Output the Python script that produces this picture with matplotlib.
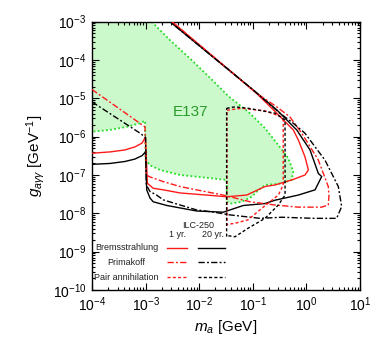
import numpy as np
import matplotlib
matplotlib.use("Agg")
from matplotlib import pyplot as plt
from matplotlib.ticker import LogLocator, NullFormatter

plt.rcParams['font.family'] = ['Liberation Sans', 'DejaVu Sans']
plt.rcParams['mathtext.fontset'] = 'custom'
plt.rcParams['mathtext.rm'] = 'Liberation Sans'
plt.rcParams['mathtext.it'] = 'Liberation Sans:italic'
plt.rcParams['mathtext.bf'] = 'Liberation Sans:bold'

# E137 excluded region (boundary, clockwise from top edge)
e137_x = [1.3e-3, 2.85e-3, 6.7e-3, 1.6e-2, 3.6e-2, 8.2e-2, 0.169, 0.30, 0.46, 0.57, 0.53,
          0.346, 0.169, 0.127, 9.5e-2, 6.2e-2, 4.0e-2, 3.26e-2, 3.26e-2, 1.59e-2, 4.4e-3,
          1.86e-3, 1.21e-3, 1.0e-3, 9.75e-4, 7.9e-4, 4.4e-4, 2.17e-4, 1e-4]
e137_y = [1e-3, 3.3e-4, 1.1e-4, 3.4e-5, 1.1e-5, 4.5e-6, 1.66e-6, 6.0e-7, 2.75e-7, 1.23e-7, 7.4e-8,
          6.0e-8, 5.5e-8, 4.0e-8, 2.7e-8, 2.0e-8, 1.8e-8, 2.0e-8, 7.4e-8, 8.3e-8, 1.0e-7,
          1.35e-7, 1.8e-7, 2.45e-7, 2.6e-6, 2.24e-6, 1.8e-6, 1.5e-6, 1.35e-6]

# Bremsstrahlung
brem1_x = [1e-4, 2.17e-4, 4.1e-4, 6.3e-4, 8.6e-4, 9.95e-4, 1.08e-3, 1.39e-3, 2.15e-3, 4.4e-3,
           1.83e-2, 3.26e-2, 7.7e-2, 0.169, 0.26, 0.53, 0.94, 1.09, 0.94, 0.71, 0.57, 0.37,
           0.28, 0.118, 3.1e-3]
brem1_y = [3.7e-7, 4.0e-7, 4.5e-7, 5.4e-7, 6.8e-7, 9.8e-7, 6.1e-8, 4.5e-8, 4.1e-8, 3.4e-8,
           2.9e-8, 2.7e-8, 3.0e-8, 5.0e-8, 5.5e-8, 7.4e-8, 1.0e-7, 1.35e-7, 3.0e-7, 8.1e-7, 1.5e-6, 2.75e-6,
           4.1e-6, 1.35e-5, 1e-3]
brem20_x = [1e-4, 2.17e-4, 4.1e-4, 6.3e-4, 8.6e-4, 9.95e-4, 1.05e-3, 1.21e-3, 1.39e-3, 2.5e-3,
            9.0e-3, 2.8e-2, 6.65e-2, 0.169, 0.26, 0.71, 1.45, 1.93, 1.67, 1.17, 0.66, 0.28,
            0.102, 2.85e-3]
brem20_y = [1.9e-7, 2.0e-7, 2.25e-7, 2.6e-7, 3.2e-7, 4.0e-7, 4.1e-8, 2.5e-8, 2.0e-8, 1.6e-8,
            1.15e-8, 1.07e-8, 1.6e-8, 1.8e-8, 2.2e-8, 3.0e-8, 4.1e-8, 9.1e-8, 1.1e-7, 4.5e-7, 1.5e-6, 5.0e-6,
            1.65e-5, 1e-3]

# Primakoff
prim1_x = [1e-4, 9.75e-4, 1.03e-3, 1.21e-3, 2.15e-3, 4.4e-3, 8.9e-3, 2.8e-2, 8.9e-2, 0.26,
           0.71, 1.93, 2.56, 2.64, 2.56, 1.67, 0.82, 0.49, 0.28, 0.118, 3.1e-3]
prim1_y = [1.7e-5, 1.8e-6, 1.0e-7, 8.9e-8, 6.7e-8, 5.0e-8, 4.1e-8, 3.0e-8, 2.0e-8, 1.65e-8,
           1.45e-8, 1.45e-8, 1.65e-8, 3.0e-8, 5.0e-8, 2.45e-7, 1.23e-6, 3.3e-6, 6.0e-6, 1.35e-5, 1e-3]
prim20_x = [1e-4, 7.9e-4, 1.0e-3, 1.03e-3, 1.21e-3, 1.6e-3, 2.15e-3, 4.4e-3, 8.9e-3, 1.83e-2,
            3.76e-2, 0.136, 0.346, 1.45, 3.67, 4.55, 3.94, 2.22, 0.94, 0.57, 0.32, 0.102, 2.85e-3]
prim20_y = [8.1e-6, 1.23e-6, 9.5e-7, 5.5e-8, 3.7e-8, 3.0e-8, 2.24e-8, 1.65e-8, 1.23e-8, 1.08e-8,
            9.1e-9, 7.4e-9, 7.9e-9, 7.4e-9, 7.4e-9, 1.5e-8, 5.0e-8, 2.45e-7, 1.23e-6, 2.24e-6, 4.1e-6,
            1.65e-5, 1e-3]

# Pair annihilation
pair1_x = [3.3e-2, 6.2e-2, 0.169, 0.346, 0.37, 0.37, 0.30, 0.147, 8.2e-2, 4.66e-2, 3.5e-2, 3.3e-2, 3.3e-2]
pair1_y = [4.9e-6, 5.5e-6, 4.7e-6, 3.3e-6, 2.7e-6, 5.5e-8, 3.0e-8, 1.35e-8, 6.8e-9, 5.5e-9, 5.2e-9, 5.0e-9, 4.9e-6]
pair20_x = [3.25e-2, 4.66e-2, 8.2e-2, 0.26, 0.40, 0.40, 0.30, 0.169, 8.2e-2, 4.66e-2, 3.5e-2, 3.25e-2, 3.25e-2]
pair20_y = [5.5e-6, 6.0e-6, 5.5e-6, 4.1e-6, 2.7e-6, 3.0e-8, 1.65e-8, 7.4e-9, 4.1e-9, 2.45e-9, 2.6e-9, 2.45e-9, 5.5e-6]

red = '#ff1a1a'
green_line = '#22dd22'
dashdot = (0, (4.5, 1.6, 1.4, 1.6))
dotted = (0, (2.2, 1.6))

fig = plt.figure(figsize=(3.73, 3.44), dpi=100)
ax = fig.add_axes([0.2466, 0.157, 0.7185, 0.780])

ax.fill(e137_x + [1e-4], e137_y + [1e-3], color='#ccf9cc', lw=0, zorder=1)
ax.plot(e137_x, e137_y, color=green_line, lw=1.3, linestyle=(0, (1.0, 1.3)), zorder=2)
ax.text(6.8e-3, 4.5e-6, 'E137', color='#2a9a2a', fontsize=11, ha='center', va='center', zorder=3)

ax.plot(brem1_x, brem1_y, color=red, lw=1.0, zorder=4)
ax.plot(brem20_x, brem20_y, color='black', lw=1.0, zorder=4)
ax.plot(prim1_x, prim1_y, color=red, lw=1.0, linestyle=dashdot, zorder=4)
ax.plot(prim20_x, prim20_y, color='black', lw=1.0, linestyle=dashdot, zorder=4)
ax.plot(pair1_x, pair1_y, color=red, lw=1.0, linestyle=dotted, zorder=4)
ax.plot(pair20_x, pair20_y, color='black', lw=1.0, linestyle=dotted, zorder=4)

# hand-made legend
rows = ['Bremsstrahlung', 'Primakoff', 'Pair annihilation']
styles = ['-', dashdot, dotted]
row_y = [0.157, 0.103, 0.047]
for name, ls, yy in zip(rows, styles, row_y):
    ax.text(0.129, yy, name, transform=ax.transAxes, fontsize=6.5, ha='center', va='center', color='#222222')
    ax.plot([0.279, 0.353], [yy, yy], transform=ax.transAxes, color=red, lw=1.0, linestyle=ls)
    ax.plot([0.397, 0.496], [yy, yy], transform=ax.transAxes, color='black', lw=1.0, linestyle=ls)
ax.text(0.397, 0.242, 'ILC-250', transform=ax.transAxes, fontsize=6.5, ha='center', va='center', color='#222222')
ax.text(0.318, 0.205, '1 yr.', transform=ax.transAxes, fontsize=6.5, ha='center', va='center', color='#222222')
ax.text(0.453, 0.205, '20 yr.', transform=ax.transAxes, fontsize=6.5, ha='center', va='center', color='#222222')

ax.set_xscale('log')
ax.set_yscale('log')
ax.set_xlim(1e-4, 10)
ax.set_ylim(1e-10, 1e-3)
ax.xaxis.set_major_locator(LogLocator(base=10, numticks=20))
ax.yaxis.set_major_locator(LogLocator(base=10, numticks=20))
ax.xaxis.set_minor_locator(LogLocator(base=10, subs=np.arange(2, 10), numticks=100))
ax.yaxis.set_minor_locator(LogLocator(base=10, subs=np.arange(2, 10), numticks=100))
ax.xaxis.set_minor_formatter(NullFormatter())
ax.yaxis.set_minor_formatter(NullFormatter())
ax.tick_params(which='both', direction='in', top=True, right=True, width=0.8)
ax.tick_params(which='major', length=5, labelsize=10, pad=4)
ax.tick_params(which='minor', length=2.5)
for s in ax.spines.values():
    s.set_linewidth(1.0)

ax.set_xlabel('$m_a$ [GeV]', fontsize=11, labelpad=3)
ax.set_ylabel(r'$g_{a\gamma\gamma}$ [GeV$^{-1}$]', fontsize=11, labelpad=4)

fig.savefig('out.png', dpi=100)
